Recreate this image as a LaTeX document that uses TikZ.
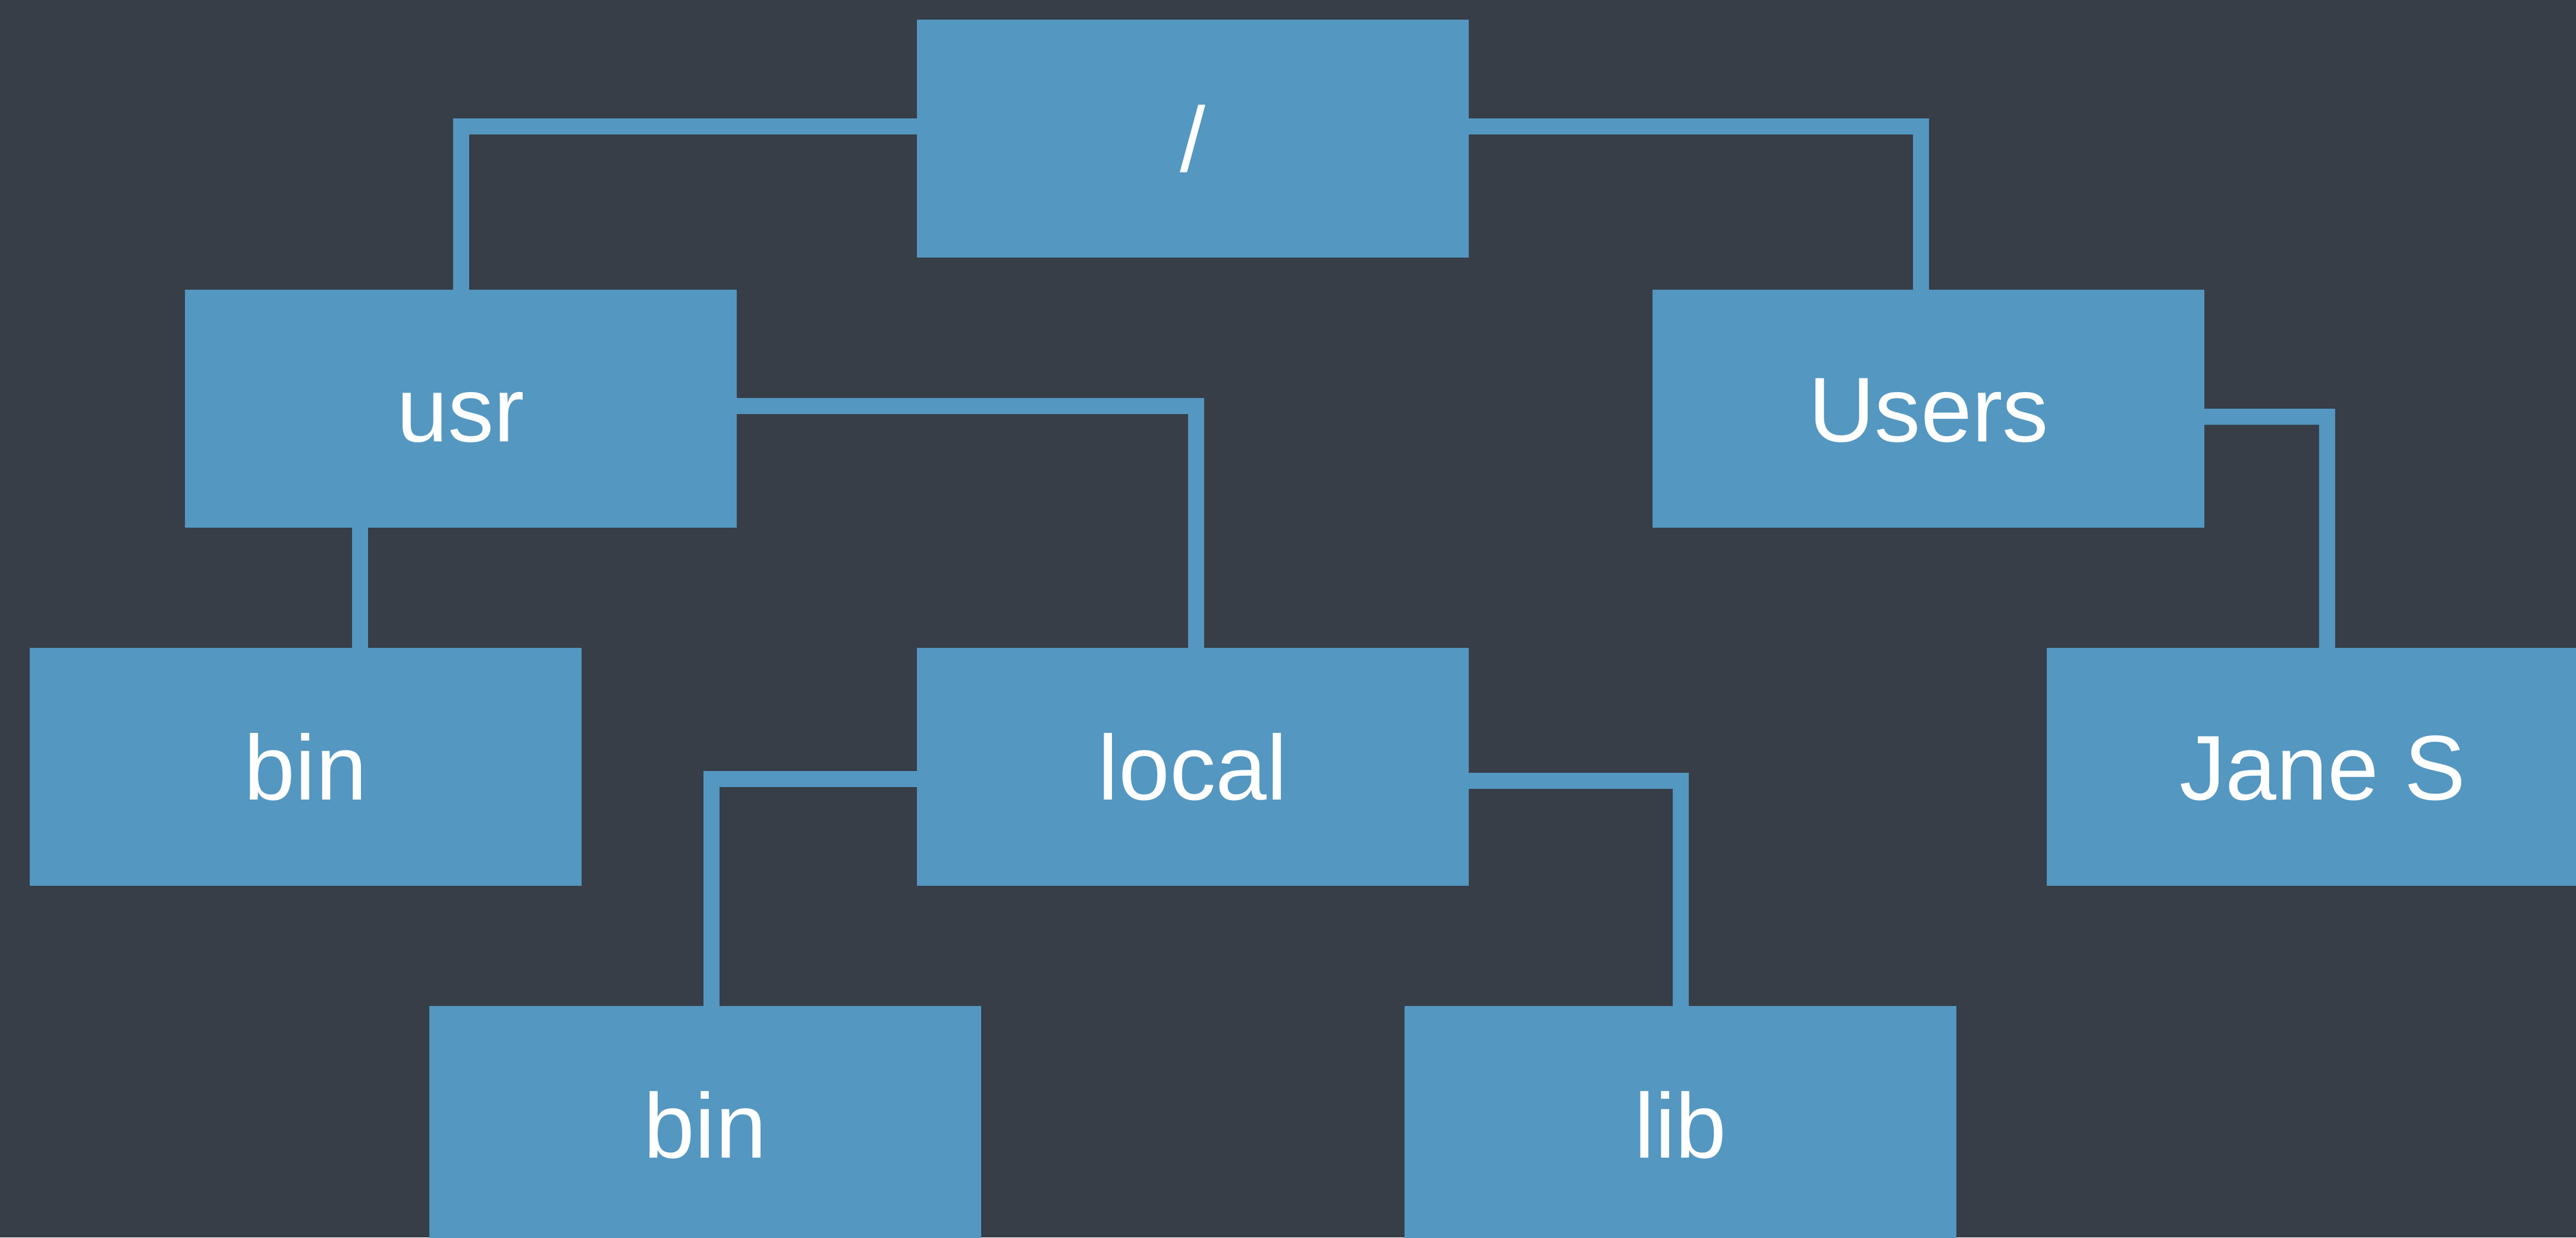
\documentclass[tikz,border=0pt]{standalone}
\usepackage{fontspec}
\setmainfont{Liberation Sans}
\usepackage{xcolor}
\definecolor{slate}{HTML}{373E47}
\definecolor{folder}{HTML}{5497C1}
\usetikzlibrary{calc}

\tikzset{
  dirbox/.style={rectangle, fill=folder, text=white, inner sep=0pt, outer sep=0pt,
    minimum width=9.28cm, minimum height=4cm, text height=31.5pt, text depth=0pt,
    font=\fontsize{44}{52}\selectfont},
  link/.style={draw=folder, line width=0.27cm}
}

\begin{document}
\begin{tikzpicture}
  \fill[slate] (0,0) rectangle (43.32,-20.8);
  \useasboundingbox (0,0) rectangle (43.32,-20.8);

  \node[dirbox] (root) at (20.055,-2.33) {/};
  \node[dirbox] (usr) at (7.75,-6.87) {usr};
  \node[dirbox] (users) at (32.43,-6.87) {Users};
  \node[dirbox] (bin) at (5.14,-12.89) {bin};
  \node[dirbox] (local) at (20.06,-12.89) {local};
  \node[dirbox] (jane) at (39.06,-12.89) {Jane S};
  \node[dirbox] (localbin) at (11.86,-18.91) {bin};
  \node[dirbox] (lib) at (28.26,-18.91) {lib};

  \draw[link] ([yshift=0.21cm]root.west) -| (usr.north);
  \draw[link] ([yshift=0.21cm]root.east) -| ([xshift=-0.13cm]users.north);
  \draw[link] ([yshift=0.05cm]usr.east) -| ([xshift=0.05cm]local.north);
  \draw[link] ([xshift=-1.7cm]usr.south) -- ([xshift=-1.7cm]usr.south |- bin.north);
  \draw[link] ([yshift=-0.13cm]users.east) -| ([xshift=0.07cm]jane.north);
  \draw[link] ([yshift=-0.2cm]local.west) -| ([xshift=0.1cm]localbin.north);
  \draw[link] ([yshift=-0.23cm]local.east) -| (lib.north);
\end{tikzpicture}
\end{document}
